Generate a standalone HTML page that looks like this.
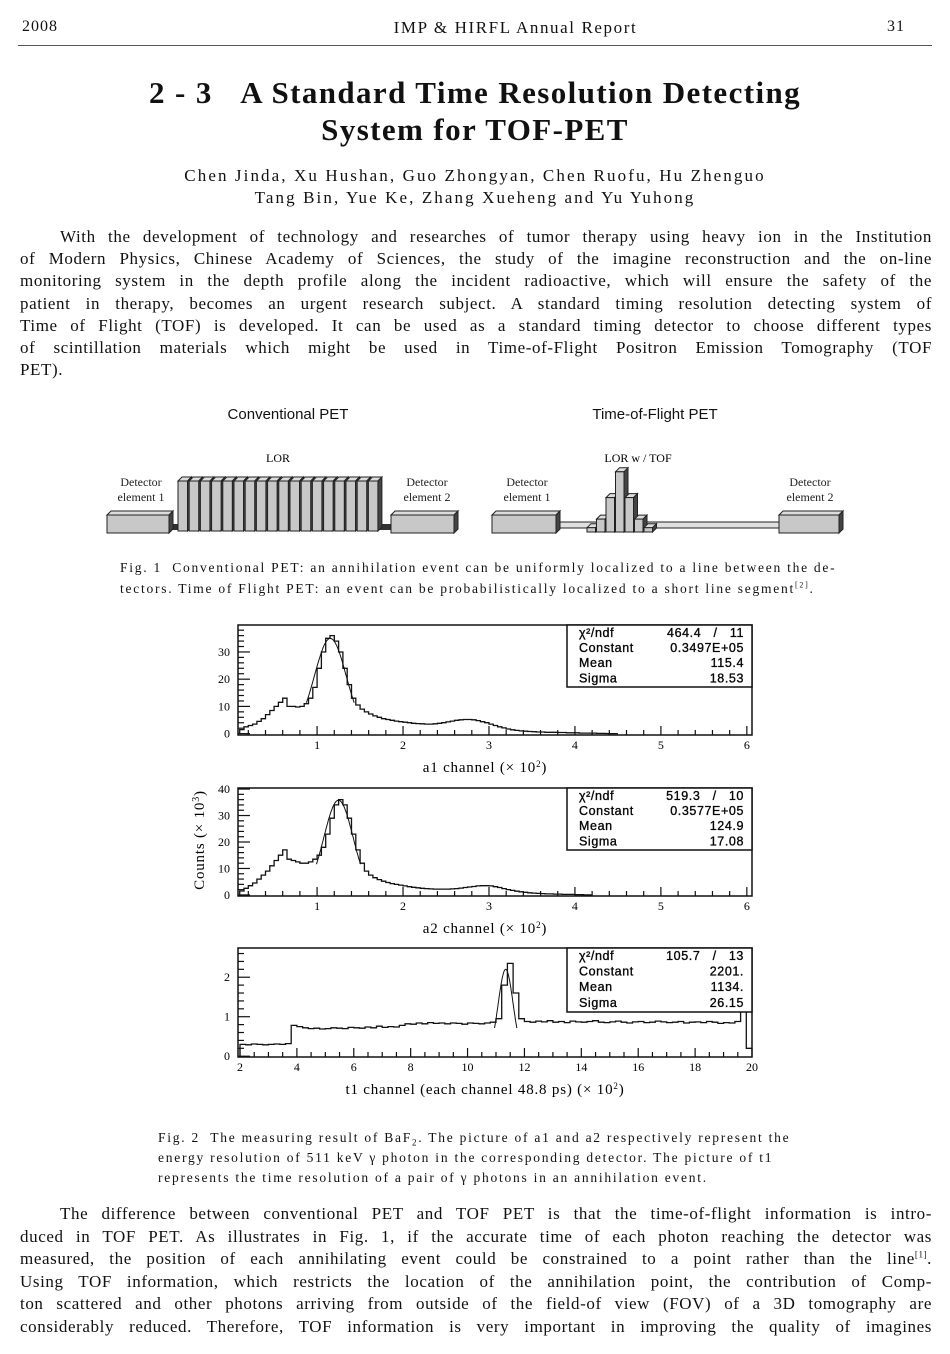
<!DOCTYPE html>
<html><head><meta charset="utf-8">
<style>
body{margin:0;background:#fff;}
#page{position:relative;width:950px;height:1354px;overflow:hidden;background:#fff;font-family:"Liberation Serif","Noto Serif CJK SC",serif;color:#111;}
.t{position:absolute;white-space:nowrap;}
.ln{position:absolute;left:20px;width:912px;font-size:17px;line-height:20px;text-align:justify;text-align-last:justify;white-space:nowrap;letter-spacing:0.6px;}
.cap{position:absolute;font-size:13.5px;line-height:20px;white-space:nowrap;letter-spacing:1.75px;}
sup,sub{line-height:0;}
</style></head>
<body>
<div id="page">
<div class="t" style="left:22px;top:18px;font-size:16px;letter-spacing:1px;">2008</div>
<div class="t" style="left:383px;width:265px;text-align:center;top:18px;font-size:17px;letter-spacing:1.6px;">IMP &amp; HIRFL Annual Report</div>
<div class="t" style="left:887px;top:18px;font-size:16px;letter-spacing:1px;">31</div>
<div style="position:absolute;left:18px;top:45px;width:914px;height:1px;background:#555;"></div>

<div class="t" style="left:0;width:950px;text-align:center;top:74px;font-size:31px;line-height:37px;font-weight:bold;letter-spacing:1.4px;">2 - 3 &nbsp;&nbsp;A Standard Time Resolution Detecting<br>System for TOF-PET</div>
<div class="t" style="left:0;width:950px;text-align:center;top:165px;font-size:17px;line-height:22px;letter-spacing:2.1px;">Chen Jinda, Xu Hushan, Guo Zhongyan, Chen Ruofu, Hu Zhenguo<br>Tang Bin, Yue Ke, Zhang Xueheng and Yu Yuhong</div>

<div>
<div class="ln" style="top:227px;left:60px;width:872px;">With the development of technology and researches of tumor therapy using heavy ion in the Institution</div>
<div class="ln" style="top:249px;">of Modern Physics, Chinese Academy of Sciences, the study of the imagine reconstruction and the on-line</div>
<div class="ln" style="top:271px;">monitoring system in the depth profile along the incident radioactive, which will ensure the safety of the</div>
<div class="ln" style="top:294px;">patient in therapy, becomes an urgent research subject. A standard timing resolution detecting system of</div>
<div class="ln" style="top:316px;">Time of Flight (TOF) is developed. It can be used as a standard timing detector to choose different types</div>
<div class="ln" style="top:338px;">of scintillation materials which might be used in Time-of-Flight Positron Emission Tomography (TOF</div>
<div class="ln" style="top:360px;text-align-last:left;">PET).</div>
</div>

<svg id="fig1" style="position:absolute;left:0;top:395px;" width="950" height="150" font-family="Liberation Sans, sans-serif">
<g transform="translate(0,-395)">
<text x="288" y="419" font-size="15" text-anchor="middle" fill="#111">Conventional PET</text>
<text x="655" y="419" font-size="15" text-anchor="middle" fill="#111">Time-of-Flight PET</text>
<text x="278" y="462" font-size="12" font-family="Liberation Serif, serif" text-anchor="middle">LOR</text>
<text x="638" y="462" font-size="12" font-family="Liberation Serif, serif" text-anchor="middle">LOR w / TOF</text>
<g font-size="12" font-family="Liberation Serif, serif" text-anchor="middle" fill="#222">
<text x="141" y="486">Detector</text><text x="141" y="501">element 1</text>
<text x="427" y="486">Detector</text><text x="427" y="501">element 2</text>
<text x="527" y="486">Detector</text><text x="527" y="501">element 1</text>
<text x="810" y="486">Detector</text><text x="810" y="501">element 2</text>
</g>
<g id="fig1g"></g>
</g>
</svg>
<div class="cap" style="left:120px;top:557px;line-height:21px;">Fig. 1 &nbsp;Conventional PET: an annihilation event can be uniformly localized to a line between the de-<br>tectors. Time of Flight PET: an event can be probabilistically localized to a short line segment<sup style="font-size:8px">[2]</sup>.</div>

<svg id="charts" style="position:absolute;left:0;top:0;" width="950" height="1354" font-family="Liberation Serif, serif"></svg>

<div class="cap" style="left:158px;top:1128px;line-height:20px;">Fig. 2 &nbsp;The measuring result of BaF<sub style="font-size:9px">2</sub>. The picture of a1 and a2 respectively represent the<br>energy resolution of 511 keV &gamma; photon in the corresponding detector. The picture of t1<br>represents the time resolution of a pair of &gamma; photons in an annihilation event.</div>

<div>
<div class="ln" style="top:1204px;left:60px;width:872px;">The difference between conventional PET and TOF PET is that the time-of-flight information is intro-</div>
<div class="ln" style="top:1227px;">duced in TOF PET. As illustrates in Fig. 1, if the accurate time of each photon reaching the detector was</div>
<div class="ln" style="top:1249px;">measured, the position of each annihilating event could be constrained to a point rather than the line<sup style="font-size:9px">[1]</sup>.</div>
<div class="ln" style="top:1272px;">Using TOF information, which restricts the location of the annihilation point, the contribution of Comp-</div>
<div class="ln" style="top:1294px;">ton scattered and other photons arriving from outside of the field-of view (FOV) of a 3D tomography are</div>
<div class="ln" style="top:1317px;">considerably reduced. Therefore, TOF information is very important in improving the quality of imagines</div>
</div>
</div>

<script>
// ---- chart data ----
var a1BinStart = 0.10;
var a1BinWidth = 0.05;
var a1Counts = [1.5,2.5,3,3.5,4.5,5.5,7,8.5,10,11.5,13,10,10,9.8,10,11,13,17,24,30,35,36,34,30,24,18,13,10.5,9,8,7.2,6.5,6,5.5,5.2,4.9,4.6,4.4,4.2,4,3.8,3.7,3.6,3.5,3.5,3.6,3.8,4,4.3,4.6,4.9,5.1,5.2,5.2,5.1,4.8,4.4,4,3.5,3,2.5,2.1,1.7,1.4,1.2,1,0.9,0.8,0.7,0.6,0.6,0.5,0.5,0.5,0.4,0.4,0.3,0.3,0.3,0.2,0.2,0.2,0.2,0.1,0.1,0.05,0,0];
var a1Fit = {constant:34.97, mean:1.154, sigma:0.1853};
var a1Stats = [["χ²/ndf","464.4   /   11"],["Constant","0.3497E+05"],["Mean","115.4"],["Sigma","18.53"]];

var a2BinStart = 0.10;
var a2BinWidth = 0.05;
var a2Counts = [1.5,2.5,3.5,4.5,6,7.5,9,11,13,15,17,13.5,13,12.5,12,12,12.5,13.5,15,18,23,29,34,36,34,29,23,17,12,9,7.5,6.5,5.8,5.2,4.7,4.3,4,3.7,3.4,3.1,2.9,2.7,2.5,2.4,2.3,2.2,2.2,2.2,2.2,2.3,2.4,2.6,2.8,3,3.2,3.4,3.5,3.5,3.4,3.1,2.8,2.4,2,1.7,1.4,1.2,1,0.8,0.7,0.6,0.5,0.4,0.4,0.3,0.3,0.2,0.2,0.2,0.1,0.1,0,0];
var a2Fit = {constant:35.77, mean:1.249, sigma:0.1708};
var a2Stats = [["χ²/ndf","519.3   /   10"],["Constant","0.3577E+05"],["Mean","124.9"],["Sigma","17.08"]];

var t1BinStart = 2.0;
var t1BinWidth = 0.2;
var t1Counts = [0.30,0.29,0.31,0.30,0.29,0.30,0.31,0.30,0.32,
0.78,0.75,0.72,0.70,0.71,0.69,0.70,0.72,0.71,0.70,0.73,0.72,0.71,0.74,0.72,0.76,0.73,0.75,0.74,0.78,
0.82,0.81,0.84,0.82,0.85,0.83,0.84,0.82,0.84,0.83,0.81,0.84,0.83,0.82,0.84,0.86,
0.95,1.8,2.35,1.6,0.95,0.88,0.86,0.89,0.87,0.90,0.86,0.88,0.85,0.89,0.87,0.86,0.88,0.90,0.86,0.85,0.87,0.89,0.86,0.84,0.87,0.88,0.85,0.86,0.89,0.87,0.85,0.86,0.88,0.84,0.86,0.87,0.85,0.88,0.86,0.83,0.85,0.84,0.88,
1.6,0.2];
var t1Fit = {constant:2.201, mean:11.34, sigma:0.2615};
var t1Stats = [["χ²/ndf","105.7   /   13"],["Constant","2201."],["Mean","1134."],["Sigma","26.15"]];

var a1XTicks = [1,2,3,4,5,6];
var a1YTicks = [0,10,20,30];
var a2YTicks = [0,10,20,30,40];
var t1XTicks = [2,4,6,8,10,12,14,16,18,20];
var t1YTicks = [0,1,2];

var NS = "http://www.w3.org/2000/svg";
var svg = document.getElementById('charts');
function mk(tag, attrs, parent){
  var e = document.createElementNS(NS, tag);
  for (var k in attrs) e.setAttribute(k, attrs[k]);
  (parent||svg).appendChild(e);
  return e;
}

function drawPanel(name, cfg){
  var g = mk('g', {});
  
  
  function X(v){ return cfg.L + (v - cfg.xmin) / (cfg.xmax - cfg.xmin) * (cfg.R - cfg.L); }
  function Y(v){ return cfg.B - (v - cfg.ymin) / (cfg.ymax - cfg.ymin) * (cfg.B - cfg.T); }
  var d = 'M' + X(cfg.start) + ' ' + Y(0);
  for (var i = 0; i < cfg.counts.length; i++){
    var x0 = Math.max(X(cfg.start + i*cfg.width), cfg.L), x1 = Math.min(X(cfg.start + (i+1)*cfg.width), cfg.R);
    var y = Y(cfg.counts[i]);
    d += ' L' + x0.toFixed(1) + ' ' + y.toFixed(1) + ' L' + x1.toFixed(1) + ' ' + y.toFixed(1);
  }
  var h = mk('path', {d:d, fill:'none', stroke:'#111', 'stroke-width':1.3}, g);
  
  
  var f = cfg.fit, fd = '';
  for (var k = 0; k <= 60; k++){
    var xv = f.mean - 1.5*f.sigma + k * 3*f.sigma/60;
    var yv = f.constant * Math.exp(-0.5*Math.pow((xv-f.mean)/f.sigma,2));
    fd += (k ? ' L' : 'M') + X(xv).toFixed(1) + ' ' + Y(yv).toFixed(1);
  }
  var fc = mk('path', {d:fd, fill:'none', stroke:'#111', 'stroke-width':1}, g);
  
  
  var fr = mk('rect', {x:cfg.L, y:cfg.T, width:cfg.R-cfg.L, height:cfg.B-cfg.T, fill:'none', stroke:'#111', 'stroke-width':1.5}, g);
  
  
  for (var m = Math.ceil(cfg.xmin/cfg.xminor); m*cfg.xminor <= cfg.xmax + 1e-6; m++){
    var xv2 = m*cfg.xminor, major = Math.abs(xv2/cfg.xmajor - Math.round(xv2/cfg.xmajor)) < 1e-6;
    mk('line', {x1:X(xv2), x2:X(xv2), y1:cfg.B, y2:cfg.B - (major?9:5), stroke:'#111', 'stroke-width':1.2}, g);
  }
  cfg.xticks.forEach(function(v){
    var t = mk('text', {x:X(v), y:cfg.B+14, 'font-size':12, 'text-anchor':'middle'}, g);
    t.textContent = v;
    
    
  });
  for (var n = Math.ceil(cfg.ymin/cfg.yminor); n*cfg.yminor <= cfg.ymax; n++){
    var yv2 = n*cfg.yminor, majy = Math.abs(yv2/cfg.ymajor - Math.round(yv2/cfg.ymajor)) < 1e-6;
    mk('line', {x1:cfg.L, x2:cfg.L + (majy?12:6), y1:Y(yv2), y2:Y(yv2), stroke:'#111', 'stroke-width':1.2}, g);
  }
  cfg.yticks.forEach(function(v){
    var t = mk('text', {x:cfg.L-8, y:Y(v)+4, 'font-size':12, 'text-anchor':'end'}, g);
    t.textContent = v;
    
    
  });
  var sb = mk('g', {}, g);
  
  
  mk('rect', {x:567, y:cfg.T, width:cfg.R-567, height:cfg.boxH, fill:'#fff', stroke:'#111', 'stroke-width':1.5}, sb);
  cfg.stats.forEach(function(r, i){
    var yy = cfg.T + 12 + i*cfg.boxH/4.1;
    var a = mk('text', {x:579, y:yy, 'font-size':12.5, 'font-family':'Liberation Sans, sans-serif', 'letter-spacing':'0.6', stroke:'#111', 'stroke-width':'0.35'}, sb);
    a.textContent = r[0];
    var b = mk('text', {x:cfg.R-8, y:yy, 'font-size':12.5, 'font-family':'Liberation Sans, sans-serif', 'text-anchor':'end', 'letter-spacing':'0.6', stroke:'#111', 'stroke-width':'0.35'}, sb);
    b.setAttribute('style','white-space:pre');
    b.textContent = r[1];
  });
  var at = mk('text', {x:485, y:cfg.B+37, 'font-size':15, 'text-anchor':'middle', 'letter-spacing':'0.8'}, g);
  at.innerHTML = cfg.title;
  
  
}

drawPanel('a1', {L:238,R:752,T:625,B:735,xmin:0.08,xmax:6.06,ymin:-0.5,ymax:39.9,xminor:0.2,xmajor:1,yminor:2,ymajor:10,
  start:a1BinStart,width:a1BinWidth,counts:a1Counts,fit:a1Fit,stats:a1Stats,xticks:a1XTicks,yticks:a1YTicks,boxH:62,
  title:'a1 channel (× 10<tspan dy="-5" font-size="9">2</tspan><tspan dy="5">)</tspan>'});
drawPanel('a2', {L:238,R:752,T:788,B:896,xmin:0.08,xmax:6.06,ymin:-0.4,ymax:40.4,xminor:0.2,xmajor:1,yminor:2,ymajor:10,
  start:a2BinStart,width:a2BinWidth,counts:a2Counts,fit:a2Fit,stats:a2Stats,xticks:a1XTicks,yticks:a2YTicks,boxH:62,
  title:'a2 channel (× 10<tspan dy="-5" font-size="9">2</tspan><tspan dy="5">)</tspan>'});
drawPanel('t1', {L:238,R:752,T:948,B:1057,xmin:1.93,xmax:20.0,ymin:-0.02,ymax:2.74,xminor:0.5,xmajor:2,yminor:0.2,ymajor:1,
  start:t1BinStart,width:t1BinWidth,counts:t1Counts,fit:t1Fit,stats:t1Stats,xticks:t1XTicks,yticks:t1YTicks,boxH:64,
  title:'t1 channel (each channel 48.8 ps) (× 10<tspan dy="-5" font-size="9">2</tspan><tspan dy="5">)</tspan>'});

var yt = mk('text', {x:0, y:0, 'font-size':15, 'text-anchor':'middle', 'letter-spacing':'0.8', transform:'translate(204,840) rotate(-90)'});
yt.innerHTML = 'Counts (× 10<tspan dy="-5" font-size="10">3</tspan><tspan dy="5">)</tspan>';



// ---- Figure 1 diagram ----
var fg = document.getElementById('fig1g');
function box(x, y, w, h, parent){
  mk('polygon', {points:(x)+','+(y)+' '+(x+4)+','+(y-4)+' '+(x+w+4)+','+(y-4)+' '+(x+w)+','+(y), fill:'#ddd', stroke:'#222', 'stroke-width':1}, parent);
  mk('polygon', {points:(x+w)+','+(y)+' '+(x+w+4)+','+(y-4)+' '+(x+w+4)+','+(y+h-4)+' '+(x+w)+','+(y+h), fill:'#444', stroke:'#222', 'stroke-width':1}, parent);
  mk('rect', {x:x, y:y, width:w, height:h, fill:'#c8c8c8', stroke:'#222', 'stroke-width':1}, parent);
}
var lorBarCount = 18;
var tofBarHeights = [1, 3, 8, 14, 8, 3, 1];
mk('rect', {x:150, y:524, width:250, height:6, fill:'#333'}, fg);
box(107, 515, 62, 18, fg);
for (var i = 0; i < lorBarCount; i++) box(178 + i*11.2, 481, 9.5, 50, fg);
box(391, 515, 63, 18, fg);
mk('rect', {x:555, y:522, width:226, height:6, fill:'#e0e0e0', stroke:'#222', 'stroke-width':1}, fg);
box(492, 515, 64, 18, fg);
tofBarHeights.forEach(function(hh, i){ box(587 + i*9.5, 532 - hh*4.3, 8.5, hh*4.3, fg); });
box(779, 515, 60, 18, fg);
</script>
</body></html>
